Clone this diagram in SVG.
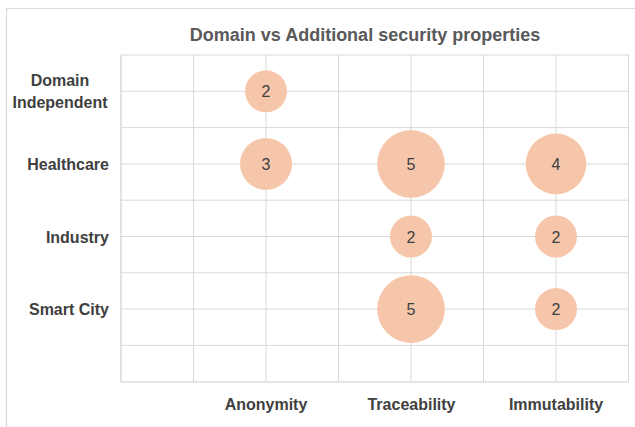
<svg xmlns="http://www.w3.org/2000/svg" width="635" height="427" viewBox="0 0 635 427">
<style>
.grid{stroke:#D9D9D9;stroke-width:1;fill:none}
.axis{stroke:#CFCFCF;stroke-width:1.2;fill:none}
.bub{fill:#F6C6AA}
.val{font-family:"Liberation Sans",Arial,sans-serif;font-size:16px;fill:#404040;text-anchor:middle}
.lab{font-family:"Liberation Sans",Arial,sans-serif;font-size:16px;font-weight:bold;fill:#404040}
.title{font-family:"Liberation Sans",Arial,sans-serif;font-size:18px;font-weight:bold;fill:#595959;text-anchor:middle}
</style>
<rect x="0" y="0" width="635" height="427" fill="#FFFFFF"/>
<path d="M6.5 427 V8.5 H635" stroke="#D9D9D9" stroke-width="1.2" fill="none"/>
<text class="title" x="365" y="40.5">Domain vs Additional security properties</text>
<g id="grid">
<path class="grid" d="M193.5 55 V382 M266 55 V382 M338.5 55 V382 M411 55 V382 M483.5 55 V382 M556 55 V382 M628.5 55 V382"/>
<path class="grid" d="M121 55 H628.5 M121 91.3 H628.5 M121 127.6 H628.5 M121 163.9 H628.5 M121 200.2 H628.5 M121 236.5 H628.5 M121 272.8 H628.5 M121 309.1 H628.5 M121 345.4 H628.5"/>
<path class="axis" d="M121 55 V382 H628.5"/>
</g>
<g id="ylabels" class="lab">
<text x="60" y="85.5" text-anchor="middle">Domain</text>
<text x="60" y="107.5" text-anchor="middle">Independent</text>
<text x="109" y="169.5" text-anchor="end">Healthcare</text>
<text x="109" y="242.5" text-anchor="end">Industry</text>
<text x="109" y="315" text-anchor="end">Smart City</text>
</g>
<g id="xlabels" class="lab" text-anchor="middle">
<text x="266" y="410">Anonymity</text>
<text x="411.5" y="410">Traceability</text>
<text x="556" y="410">Immutability</text>
</g>
<g id="b-di-anon"><circle class="bub" cx="266" cy="91.3" r="21"/><text class="val" x="266" y="97.3">2</text></g>
<g id="b-hc-anon"><circle class="bub" cx="266" cy="163.9" r="26"/><text class="val" x="266" y="169.9">3</text></g>
<g id="b-hc-trace"><circle class="bub" cx="411" cy="163.9" r="33.8"/><text class="val" x="411" y="169.9">5</text></g>
<g id="b-hc-imm"><circle class="bub" cx="556" cy="163.9" r="30.3"/><text class="val" x="556" y="169.9">4</text></g>
<g id="b-ind-trace"><circle class="bub" cx="411" cy="236.5" r="21"/><text class="val" x="411" y="242.5">2</text></g>
<g id="b-ind-imm"><circle class="bub" cx="556" cy="236.5" r="21"/><text class="val" x="556" y="242.5">2</text></g>
<g id="b-sc-trace"><circle class="bub" cx="411" cy="309.1" r="33.8"/><text class="val" x="411" y="315.1">5</text></g>
<g id="b-sc-imm"><circle class="bub" cx="556" cy="309.1" r="21"/><text class="val" x="556" y="315.1">2</text></g>
</svg>
